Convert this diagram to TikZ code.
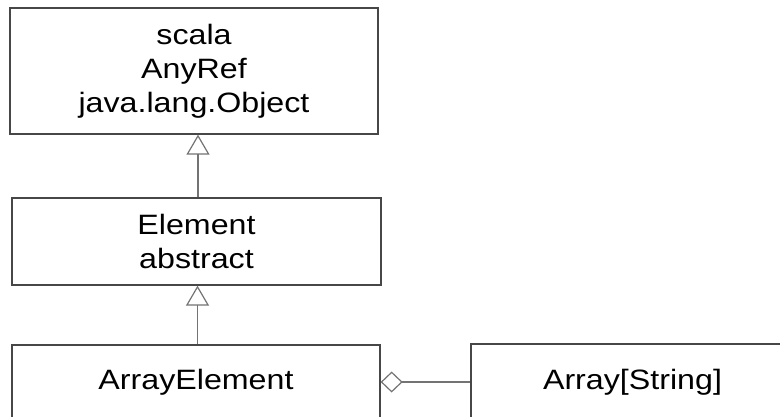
\documentclass[tikz,border=0pt]{standalone}
\usepackage{fontspec}
\setmainfont{Liberation Sans}[FakeStretch=1.15]
\usetikzlibrary{arrows.meta}

\tikzset{
  classbox/.style={draw=black!72, line width=1.3pt, fill=white, rectangle,
    inner sep=0pt, align=center, text=black,
    font=\fontsize{28}{34}\selectfont},
  inherit/.style={draw=black!55, line width=1.2pt,
    -{Triangle[open, width=23pt, length=20pt, line width=1.2pt]}},
  aggregate/.style={draw=black!55, line width=1.2pt,
    {Diamond[open, width=21pt, length=22pt, line width=1.2pt]}-}
}

\begin{document}
\begin{tikzpicture}[x=1pt, y=-1pt]
  \useasboundingbox[fill=white] (0,0) rectangle (780,416);

  % class boxes
  \node[classbox, minimum width=368pt, minimum height=126pt] (top)
    at (194,71) {scala\\AnyRef\\java.lang.Object};
  \node[classbox, minimum width=369pt, minimum height=87pt] (elem)
    at (196.5,241.5) {Element\\abstract};
  \node[classbox, minimum width=368pt, minimum height=74pt] (arrel)
    at (196,382) {ArrayElement};
  \node[classbox, minimum width=323pt, minimum height=76pt] (arrstr)
    at (632.5,382) {Array[String]};

  % inheritance
  \draw[inherit] ([xshift=1.5pt]elem.north) -- ([xshift=1.5pt]elem.north |- top.south);
  \draw[inherit] ([xshift=1.5pt]arrel.north) -- ([xshift=1.5pt]arrel.north |- elem.south);

  % aggregation
  \draw[aggregate] (arrel.east) -- (arrstr.west |- arrel.east);
\end{tikzpicture}
\end{document}
